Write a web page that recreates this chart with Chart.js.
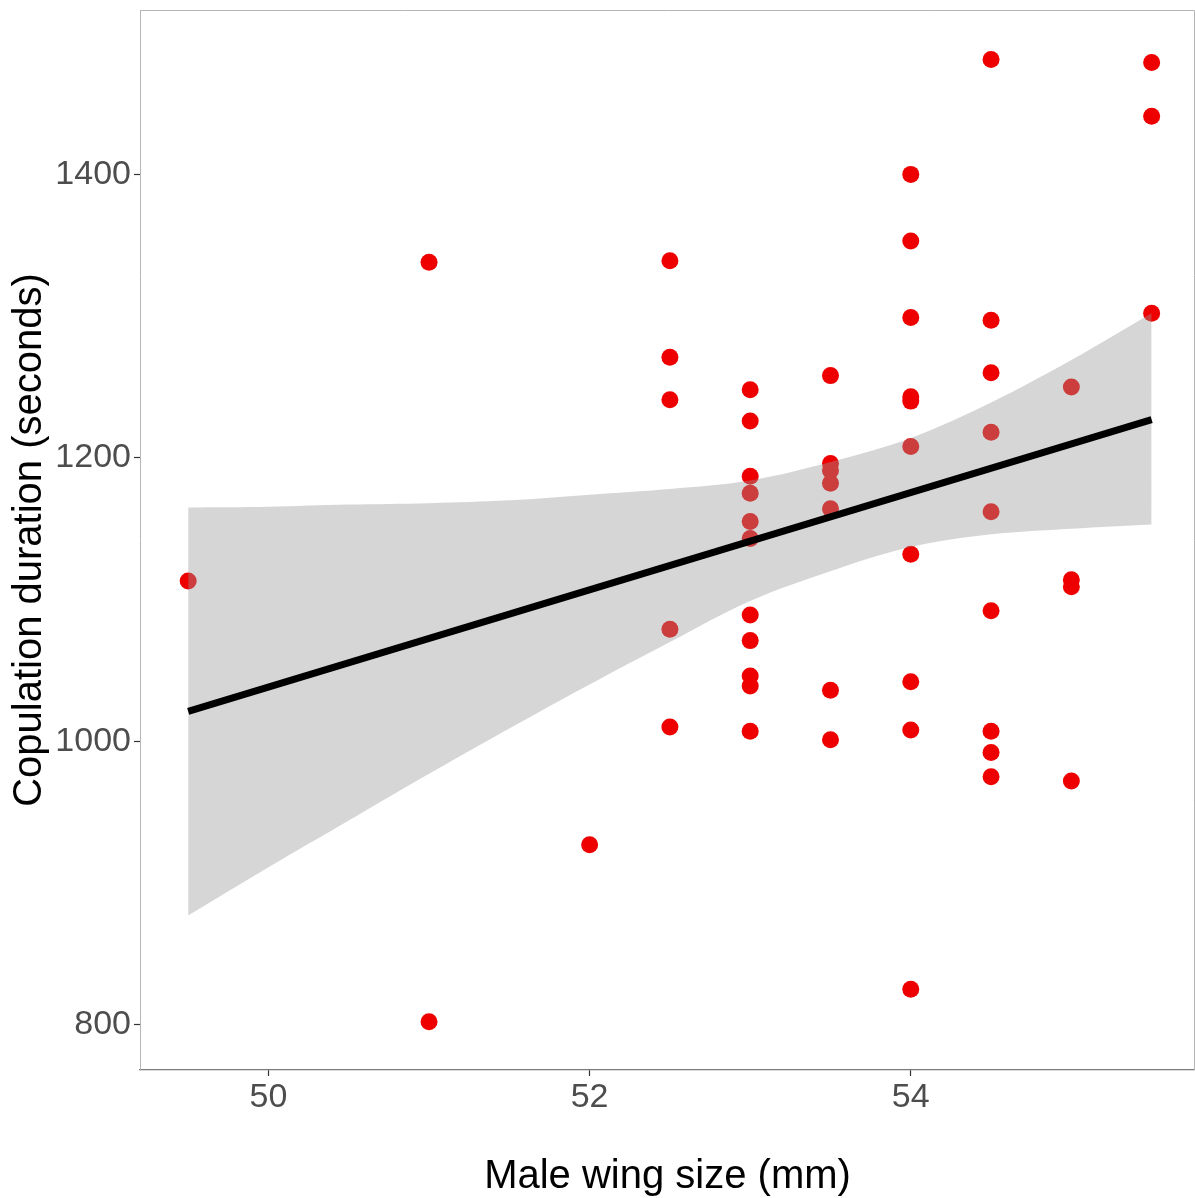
<!DOCTYPE html>
<html>
<head>
<meta charset="utf-8">
<title>Copulation duration vs male wing size</title>
<script src="https://cdn.jsdelivr.net/npm/chart.js@4.4.1/dist/chart.umd.min.js"></script>
<style>
    html, body { margin: 0; padding: 0; background: #ffffff; }
    #scatterChart { display: block; }
</style>
</head>
<body>
<canvas id="scatterChart" width="1195" height="1198"></canvas>
<script>
// -------------------- data --------------------
// male wing size (mm) of every pair
const wingSize = [
    49.5,
    51, 51,
    52,
    52.5, 52.5, 52.5, 52.5, 52.5,
    53, 53, 53, 53, 53, 53, 53, 53, 53, 53, 53,
    53.5, 53.5, 53.5, 53.5, 53.5, 53.5, 53.5,
    54, 54, 54, 54, 54, 54, 54, 54, 54, 54,
    54.5, 54.5, 54.5, 54.5, 54.5, 54.5, 54.5, 54.5, 54.5,
    55, 55, 55, 55,
    55.5, 55.5, 55.5
];

// copulation duration (seconds), same order as wingSize
const duration = [
    1113,
    1338, 802,
    927,
    1339, 1271, 1241, 1079, 1010,
    1248, 1226, 1187, 1175, 1155, 1143, 1089, 1071, 1046, 1039, 1007,
    1258, 1196, 1191, 1182, 1164, 1036, 1001,
    1400, 1353, 1299, 1243, 1240, 1208, 1132, 1042, 1008, 825,
    1481, 1297, 1260, 1218, 1162, 1092, 1007, 992, 975,
    1250, 1114, 1109, 972,
    1479, 1441, 1302
];

// fitted line (lm) end points
const fitX = [49.5, 55.5];
const fitY = [1021, 1227];

// confidence band of the fit
const bandX = [49.5, 50, 50.5, 51, 51.5, 52, 52.5, 53, 53.5, 54, 54.5, 55, 55.5];
const bandUpper = [1165, 1165.5, 1167, 1168, 1170, 1174, 1178, 1184, 1197, 1214, 1239, 1269, 1302];
const bandLower = [877, 911, 944, 977, 1009, 1040, 1070, 1099, 1120, 1137, 1146, 1150, 1153];

// tick labels
const xTicks = [50, 52, 54];
const yTicks = [800, 1000, 1200, 1400];

// -------------------- build the datasets --------------------
const toPoints = (xs, ys) => xs.map((x, i) => ({ x: x, y: ys[i] }));

const fontFamily = "'Liberation Sans', Arial, sans-serif";

// draws the light grey panel border (top and right sides)
const panelBorder = {
    id: 'panelBorder',
    beforeDatasetsDraw (chart) {
        const { ctx, chartArea } = chart;
        ctx.save();
        ctx.strokeStyle = '#b5b5b5';
        ctx.lineWidth = 1;
        ctx.beginPath();
        ctx.moveTo(chartArea.left, chartArea.top + 0.5);
        ctx.lineTo(chartArea.right - 0.5, chartArea.top + 0.5);
        ctx.lineTo(chartArea.right - 0.5, chartArea.bottom);
        ctx.stroke();
        ctx.restore();
    }
};

const data = {
    datasets: [
        {
            // regression line, drawn on top
            type: 'line',
            label: 'fit',
            data: toPoints(fitX, fitY),
            borderColor: '#000000',
            borderWidth: 7,
            borderCapStyle: 'butt',
            pointRadius: 0,
            fill: false,
            order: 0
        },
        {
            type: 'line',
            label: 'lower',
            data: toPoints(bandX, bandLower),
            borderWidth: 0,
            borderColor: 'rgba(0,0,0,0)',
            pointRadius: 0,
            tension: 0.35,
            fill: false,
            order: 1
        },
        {
            // grey ribbon laid over the points
            type: 'line',
            label: 'upper',
            data: toPoints(bandX, bandUpper),
            borderWidth: 0,
            borderColor: 'rgba(0,0,0,0)',
            backgroundColor: 'rgba(153,153,153,0.4)',
            pointRadius: 0,
            tension: 0.35,
            fill: '-1',
            order: 1
        },
        {
            type: 'scatter',
            label: 'pairs',
            data: toPoints(wingSize, duration),
            backgroundColor: '#ee0000',
            borderWidth: 0,
            pointRadius: 8.5,
            order: 2
        }
    ]
};

const config = {
    type: 'scatter',
    data: data,
    plugins: [panelBorder],
    options: {
        responsive: false,
        animation: false,
        devicePixelRatio: 1,
        layout: {
            autoPadding: false,
            padding: { top: 10, right: 0, bottom: 0, left: 0 }
        },
        plugins: {
            legend: { display: false },
            tooltip: { enabled: false }
        },
        scales: {
            x: {
                type: 'linear',
                position: 'bottom',
                min: 49.2,
                max: 55.77,
                afterFit (scale) {
                    scale.height = 128;
                    scale.paddingLeft = 0;
                    scale.paddingRight = 0;
                },
                afterBuildTicks (scale) { scale.ticks = xTicks.map(v => ({ value: v })); },
                border: { display: true, color: '#7a7a7a', width: 1.2 },
                grid: {
                    drawOnChartArea: false,
                    drawTicks: true,
                    tickLength: 6,
                    tickColor: '#333333',
                    tickWidth: 1.2
                },
                ticks: {
                    color: '#4d4d4d',
                    padding: 1,
                    maxRotation: 0,
                    autoSkip: false,
                    callback: (value) => String(value),
                    font: { family: fontFamily, size: 34 }
                },
                title: {
                    display: true,
                    text: 'Male wing size (mm)',
                    color: '#000000',
                    padding: { top: 0, bottom: 1 },
                    font: { family: fontFamily, size: 40, lineHeight: 1 }
                }
            },
            y: {
                type: 'linear',
                position: 'left',
                min: 768,
                max: 1516,
                afterFit (scale) {
                    scale.width = 140;
                    scale.paddingTop = 0;
                    scale.paddingBottom = 0;
                },
                afterBuildTicks (scale) { scale.ticks = yTicks.map(v => ({ value: v })); },
                border: { display: true, color: '#b5b5b5', width: 1 },
                grid: {
                    drawOnChartArea: false,
                    drawTicks: true,
                    tickLength: 6,
                    tickColor: '#333333',
                    tickWidth: 1.2
                },
                ticks: {
                    color: '#4d4d4d',
                    padding: 3,
                    autoSkip: false,
                    callback: (value) => String(value),
                    font: { family: fontFamily, size: 34 }
                },
                title: {
                    display: true,
                    text: 'Copulation duration (seconds)',
                    color: '#000000',
                    padding: { top: 10, bottom: 0 },
                    font: { family: fontFamily, size: 40, lineHeight: 1 }
                }
            }
        }
    }
};

// link the chart to html
const myChart = new Chart(
    document.getElementById('scatterChart'),
    config
);
</script>
</body>
</html>
